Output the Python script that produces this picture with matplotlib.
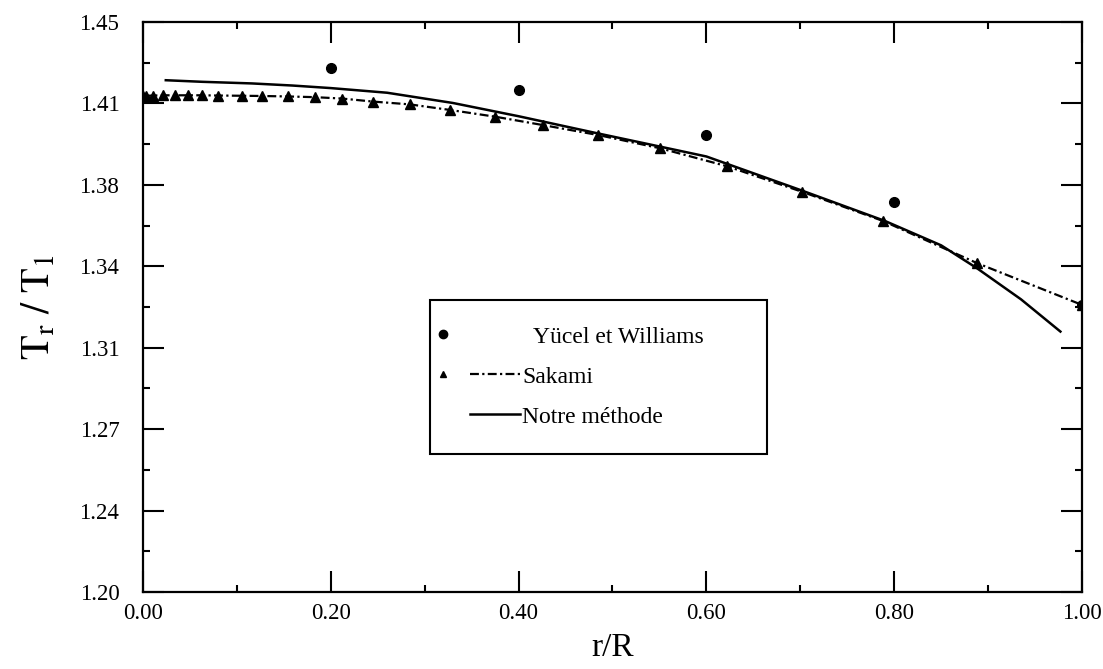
import matplotlib
matplotlib.use("Agg")
import matplotlib.pyplot as plt
from matplotlib.lines import Line2D
from matplotlib.legend_handler import HandlerBase
from matplotlib.ticker import FixedLocator, MultipleLocator

plt.rcParams['font.family'] = ['Liberation Serif', 'DejaVu Serif']
plt.rcParams['mathtext.fontset'] = 'stix'

# Yücel et Williams (points)
yw_x = [0.2, 0.4, 0.6, 0.8, 1.0]
yw_y = [1.4254, 1.4159, 1.3965, 1.3677, 1.3234]

# Sakami (triangles + dash-dot line)
sak_x = [0.0, 0.003, 0.011, 0.021, 0.034, 0.048, 0.063, 0.08, 0.105, 0.127,
         0.154, 0.183, 0.212, 0.245, 0.284, 0.327, 0.375, 0.426, 0.485, 0.551,
         0.622, 0.702, 0.788, 0.888, 1.0]
sak_y = [1.4132, 1.4133, 1.4134, 1.4135, 1.4135, 1.4135, 1.4135, 1.4134, 1.4133, 1.4132,
         1.4130, 1.4127, 1.4121, 1.4108, 1.4096, 1.4072, 1.4043, 1.4007, 1.3964, 1.3907,
         1.3830, 1.3720, 1.3595, 1.3414, 1.3234]

# Notre méthode (solid line)
nm_x = [0.023, 0.063, 0.116, 0.159, 0.2, 0.26, 0.33, 0.40, 0.48, 0.55,
        0.6, 0.7, 0.79, 0.85, 0.888, 0.935, 0.978]
nm_y = [1.4200, 1.4193, 1.4186, 1.4177, 1.4166, 1.4146, 1.4102, 1.4045, 1.3975, 1.3915,
        1.3872, 1.3728, 1.3595, 1.3490, 1.3392, 1.3258, 1.3116]

yticks = [1.20, 1.235, 1.27, 1.305, 1.34, 1.375, 1.41, 1.445]
ytick_labels = ['1.20', '1.24', '1.27', '1.31', '1.34', '1.38', '1.41', '1.45']
xticks = [0.0, 0.2, 0.4, 0.6, 0.8, 1.0]
xtick_labels = ['0.00', '0.20', '0.40', '0.60', '0.80', '1.00']

legend_labels = ['  Yücel et Williams', 'Sakami', 'Notre méthode']

SAK_DASH = (4, 1.5, 1, 1.5)


class Entry:
    def __init__(self, marker=None, msize=6, line=None):
        self.marker = marker
        self.msize = msize
        self.line = line  # None or dict of line kwargs


class HandlerMarkerLine(HandlerBase):
    """Marker at the far left, line segment to the right of it."""
    def create_artists(self, legend, orig, xdescent, ydescent, width, height,
                       fontsize, trans):
        y = height / 2.0 - ydescent
        x0 = -xdescent
        arts = []
        if orig.marker is not None:
            m = Line2D([x0 - 0.55 * fontsize], [y], linestyle='none',
                       marker=orig.marker, markersize=orig.msize, color='black')
            m.set_transform(trans)
            arts.append(m)
        if orig.line is not None:
            ln = Line2D([x0 + 0.6 * fontsize, x0 + width], [y, y], color='black',
                        **orig.line)
            ln.set_transform(trans)
            arts.append(ln)
        return arts


fig = plt.figure(figsize=(11.03, 6.69), dpi=100)
ax = fig.add_axes([0.1296, 0.1151, 0.8514, 0.852])

ax.plot(nm_x, nm_y, color='black', lw=1.8, solid_capstyle='butt')
ax.plot(sak_x, sak_y, color='black', lw=1.6, dashes=SAK_DASH,
        marker='^', markersize=6.5)
ax.plot(yw_x, yw_y, linestyle='none', color='black', marker='o', markersize=7)

ax.set_xlim(0.0, 1.0)
ax.set_ylim(1.20, 1.445)
ax.set_xticks(xticks)
ax.set_xticklabels(xtick_labels)
ax.set_yticks(yticks)
ax.set_yticklabels(ytick_labels)
ax.xaxis.set_minor_locator(MultipleLocator(0.1))
ax.yaxis.set_minor_locator(FixedLocator([t + 0.0175 for t in yticks[:-1]]))

ax.tick_params(which='both', direction='in', top=True, right=True, width=1.5,
               colors='black', labelsize=16.5)
ax.tick_params(which='major', length=15)
ax.tick_params(which='minor', length=5)
ax.tick_params(axis='y', which='major', pad=17)
ax.tick_params(axis='x', which='major', pad=8)
for s in ax.spines.values():
    s.set_linewidth(1.6)

ax.set_xlabel('r/R', fontsize=24, labelpad=6)
ax.set_ylabel(r'$\mathrm{T_r\ /\ T_1}$', fontsize=29, labelpad=15)

entries = [Entry(marker='o', msize=6),
           Entry(marker='^', msize=5, line=dict(lw=1.6, dashes=SAK_DASH)),
           Entry(line=dict(lw=1.8))]

# anchor box: left 430px, top 300px, right 767px (axes fraction)
leg = ax.legend(entries, legend_labels,
                handler_map={Entry: HandlerMarkerLine()},
                loc='upper left', bbox_to_anchor=(0.3057, 0.312, 0.3589, 0.2),
                mode='expand',
                fontsize=17, handlelength=2.7, handletextpad=0.1,
                labelspacing=0.78, borderpad=1.1, borderaxespad=0,
                fancybox=False, framealpha=1, edgecolor='black')
leg.get_frame().set_linewidth(1.5)

fig.savefig('out.png', dpi=100)
